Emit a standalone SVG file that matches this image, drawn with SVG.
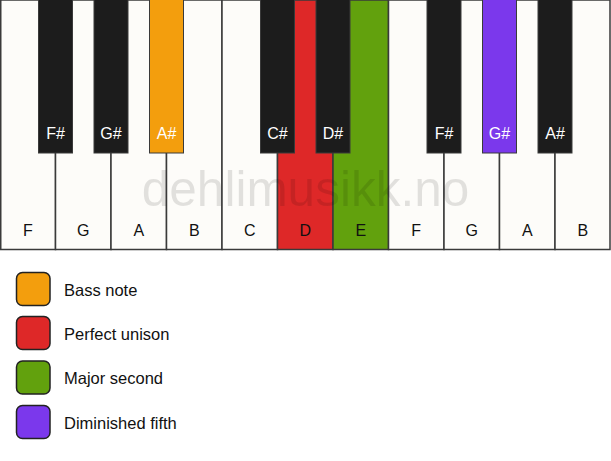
<svg xmlns="http://www.w3.org/2000/svg" width="611" height="461" viewBox="0 0 611 461">
<style>
.w{fill:#fdfcf9;stroke:#3a3a3a;stroke-width:1.5}
.b{stroke:#3a3a3a;stroke-width:1}
.lbl{font-family:"Liberation Sans",Arial,sans-serif;font-size:16px;text-anchor:middle}
.wl{fill:#111}
.bl{fill:#fff}
.leg{font-family:"Liberation Sans",Arial,sans-serif;font-size:16.5px;fill:#111}
.sw{stroke:#222;stroke-width:1.5}
</style>
<rect width="611" height="461" fill="#ffffff"/>
<g id="white-keys">
<g id="wF"><rect class="w" x="0.75" y="0" width="54.75" height="249.5"/><text class="lbl wl" x="28" y="236">F</text></g>
<g id="wG"><rect class="w" x="55.5" y="0" width="55.5" height="249.5"/><text class="lbl wl" x="83.25" y="236">G</text></g>
<g id="wA"><rect class="w" x="111" y="0" width="55.5" height="249.5"/><text class="lbl wl" x="138.75" y="236">A</text></g>
<g id="wB"><rect class="w" x="166.5" y="0" width="55.5" height="249.5"/><text class="lbl wl" x="194.25" y="236">B</text></g>
<g id="wC"><rect class="w" x="222" y="0" width="55.5" height="249.5"/><text class="lbl wl" x="249.75" y="236">C</text></g>
<g id="wD"><rect class="w" x="277.5" y="0" width="55.5" height="249.5" style="fill:#de2828"/><text class="lbl wl" x="305.25" y="236">D</text></g>
<g id="wE"><rect class="w" x="333" y="0" width="55.5" height="249.5" style="fill:#62a10d"/><text class="lbl wl" x="360.75" y="236">E</text></g>
<g id="wF2"><rect class="w" x="388.5" y="0" width="55.5" height="249.5"/><text class="lbl wl" x="416.25" y="236">F</text></g>
<g id="wG2"><rect class="w" x="444" y="0" width="55.5" height="249.5"/><text class="lbl wl" x="471.75" y="236">G</text></g>
<g id="wA2"><rect class="w" x="499.5" y="0" width="55.5" height="249.5"/><text class="lbl wl" x="527.25" y="236">A</text></g>
<g id="wB2"><rect class="w" x="555" y="0" width="55" height="249.5"/><text class="lbl wl" x="582.75" y="236">B</text></g>
</g>
<g id="black-keys">
<g id="bFs"><rect class="b" x="38.5" y="-1" width="34" height="154" fill="#1c1c1c"/><text class="lbl bl" x="55.5" y="139">F#</text></g>
<g id="bGs"><rect class="b" x="94" y="-1" width="34" height="154" fill="#1c1c1c"/><text class="lbl bl" x="111" y="139">G#</text></g>
<g id="bAs"><rect class="b" x="149.5" y="-1" width="34" height="154" fill="#f39e0d" stroke="#222"/><text class="lbl bl" x="166.5" y="139">A#</text></g>
<g id="bCs"><rect class="b" x="260.5" y="-1" width="34" height="154" fill="#1c1c1c"/><text class="lbl bl" x="277.5" y="139">C#</text></g>
<g id="bDs"><rect class="b" x="316" y="-1" width="34" height="154" fill="#1c1c1c"/><text class="lbl bl" x="333" y="139">D#</text></g>
<g id="bFs2"><rect class="b" x="427" y="-1" width="34" height="154" fill="#1c1c1c"/><text class="lbl bl" x="444" y="139">F#</text></g>
<g id="bGs2"><rect class="b" x="482.5" y="-1" width="34" height="154" fill="#7b38ec" stroke="#222"/><text class="lbl bl" x="499.5" y="139">G#</text></g>
<g id="bAs2"><rect class="b" x="538" y="-1" width="34" height="154" fill="#1c1c1c"/><text class="lbl bl" x="555" y="139">A#</text></g>
</g>
<text x="305.5" y="206" font-family="'Liberation Sans',Arial,sans-serif" font-size="49.5" text-anchor="middle" fill="#000" fill-opacity="0.11">dehlimusikk.no</text>
<g id="legend">
<g id="leg-bass"><rect class="sw" x="16.5" y="272.5" width="33.5" height="33" rx="6" fill="#f39e0d"/><text class="leg" x="64" y="295.5">Bass note</text></g>
<g id="leg-unison"><rect class="sw" x="16.5" y="316.5" width="33.5" height="33" rx="6" fill="#de2828"/><text class="leg" x="64" y="339.5">Perfect unison</text></g>
<g id="leg-second"><rect class="sw" x="16.5" y="361" width="33.5" height="33" rx="6" fill="#62a10d"/><text class="leg" x="64" y="384">Major second</text></g>
<g id="leg-fifth"><rect class="sw" x="16.5" y="405.5" width="33.5" height="33" rx="6" fill="#7b38ec"/><text class="leg" x="64" y="428.5">Diminished fifth</text></g>
</g>
</svg>
